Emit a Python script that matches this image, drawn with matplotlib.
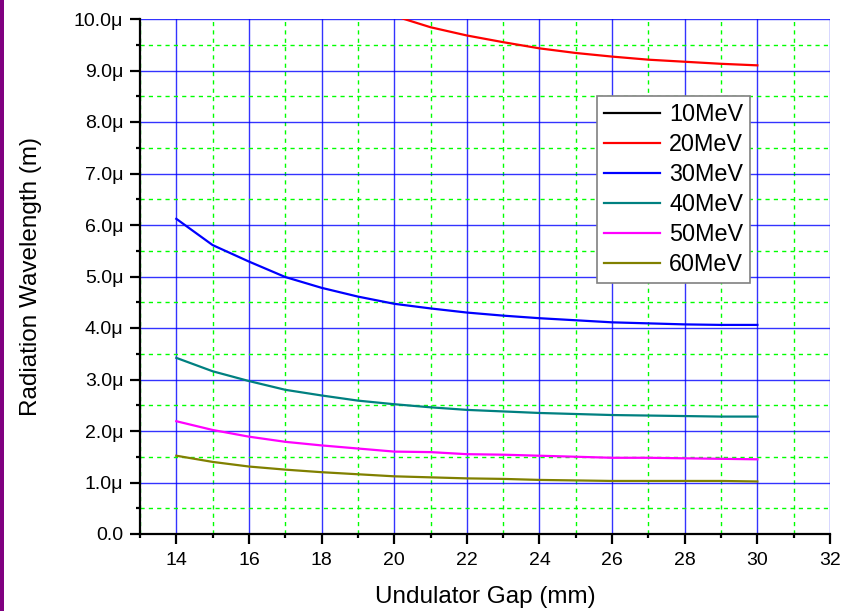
import matplotlib
matplotlib.use('Agg')
import matplotlib.pyplot as plt
from matplotlib.ticker import MultipleLocator, FuncFormatter
from matplotlib.patches import Rectangle

plt.rcParams['font.family'] = ['Liberation Sans', 'DejaVu Sans']

gap = [14, 15, 16, 17, 18, 19, 20, 21, 22, 23, 24, 25, 26, 27, 28, 29, 30]

# wavelength values in micrometres
wl_10 = []
gap_20 = [20, 21, 22, 23, 24, 25, 26, 27, 28, 29, 30]
wl_20 = [10.06, 9.84, 9.68, 9.55, 9.43, 9.34, 9.27, 9.21, 9.17, 9.13, 9.10]
wl_30 = [6.12, 5.61, 5.29, 4.99, 4.78, 4.61, 4.47, 4.38, 4.30, 4.24, 4.19, 4.15, 4.11, 4.09, 4.07, 4.06, 4.06]
wl_40 = [3.42, 3.16, 2.97, 2.80, 2.69, 2.59, 2.52, 2.46, 2.41, 2.38, 2.35, 2.33, 2.31, 2.30, 2.29, 2.28, 2.28]
wl_50 = [2.19, 2.02, 1.89, 1.79, 1.72, 1.66, 1.60, 1.59, 1.55, 1.54, 1.52, 1.50, 1.48, 1.48, 1.47, 1.46, 1.45]
wl_60 = [1.52, 1.40, 1.31, 1.25, 1.20, 1.16, 1.12, 1.10, 1.08, 1.07, 1.05, 1.04, 1.03, 1.03, 1.03, 1.03, 1.02]

fig = plt.figure(figsize=(8.52, 6.11), dpi=100)
fig.patches.append(Rectangle((0, 0), 4 / 852, 1, transform=fig.transFigure,
                             facecolor='#800080', edgecolor='none'))
ax = fig.add_axes([140 / 852, 1 - 534 / 611, 690 / 852, 515 / 611])

lw = 1.6
ax.plot(wl_10, wl_10, color='black', lw=lw, label='10MeV')
ax.plot(gap_20, wl_20, color='#FF0000', lw=lw, label='20MeV')
ax.plot(gap, wl_30, color='#0000FF', lw=lw, label='30MeV')
ax.plot(gap, wl_40, color='#008080', lw=lw, label='40MeV')
ax.plot(gap, wl_50, color='#FF00FF', lw=lw, label='50MeV')
ax.plot(gap, wl_60, color='#808000', lw=lw, label='60MeV')

ax.set_xlim(13, 32)
ax.set_ylim(0, 10)
ax.xaxis.set_major_locator(MultipleLocator(2))
ax.xaxis.set_minor_locator(MultipleLocator(1))
ax.yaxis.set_major_locator(MultipleLocator(1))
ax.yaxis.set_minor_locator(MultipleLocator(0.5))
ax.xaxis.set_major_formatter(FuncFormatter(lambda v, p: '' if v < 14 else '%d' % v))
ax.yaxis.set_major_formatter(FuncFormatter(lambda v, p: '0.0' if v == 0 else '%.1fμ' % v))

ax.grid(which='major', color='#0000FF', lw=1.0, ls='-', alpha=0.8)
ax.grid(which='minor', color='#00FF00', lw=1.0, ls=(0, (3, 3)))
ax.set_axisbelow(True)

for s in ['top', 'right']:
    ax.spines[s].set_visible(False)
for s in ['left', 'bottom']:
    ax.spines[s].set_linewidth(1.6)
ax.tick_params(which='major', direction='out', length=7, width=1.6, labelsize=14, colors='black')
ax.tick_params(which='minor', direction='out', length=3, width=1.6)
ax.tick_params(axis='x', which='major', pad=6)
ax.tick_params(axis='y', which='major', pad=5)

ax.set_xlabel('Undulator Gap (mm)', fontsize=17.5, labelpad=12)
ax.set_ylabel('Radiation Wavelength (m)', fontsize=17.5, labelpad=23)

leg = ax.legend(loc='upper left', bbox_to_anchor=(0.6623, 0.8505), fontsize=16.8,
                frameon=True, fancybox=False, edgecolor='#808080', framealpha=1,
                handlelength=2.4, handletextpad=0.4, labelspacing=0.3, borderpad=0.3,
                borderaxespad=0)
leg.get_frame().set_linewidth(1.2)

fig.savefig('out.png', dpi=100)
